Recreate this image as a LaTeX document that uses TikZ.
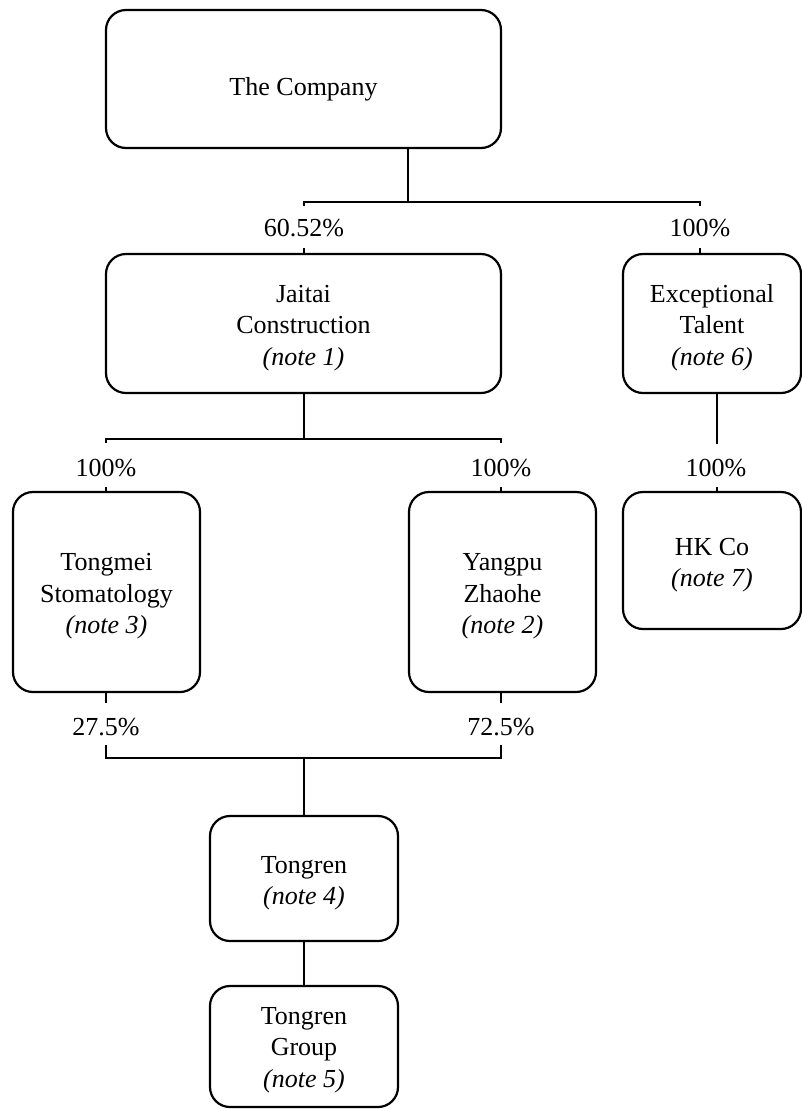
\documentclass[tikz,border=0pt]{standalone}
\usepackage{fontspec}
\setmainfont{Liberation Serif}
\newcommand{\bt}[2][4pt]{\raisebox{-#1}[\height][\depth]{\begin{tabular}{@{}c@{}}#2\end{tabular}}}
\begin{document}
\begin{tikzpicture}[x=1pt,y=-1pt,
  box/.style={draw,line width=2.2pt,rounded corners=20pt,inner sep=0pt,align=center,
    font=\fontsize{26}{31.5}\selectfont},
  pct/.style={inner sep=0pt,font=\fontsize{26}{31.5}\selectfont},
  conn/.style={line width=2.2pt}]
\useasboundingbox (0,0) rectangle (802,1109);
% boxes
\node[box,minimum width=395pt,minimum height=138pt] (comp) at (303.5,79) {\bt[10pt]{The Company}};
\node[box,minimum width=395pt,minimum height=139pt] (jait) at (303.5,323.5) {\bt{Jaitai\\Construction\\\textit{(note 1)}}};
\node[box,minimum width=178pt,minimum height=139pt] (exc) at (712,323.5) {\bt{Exceptional\\Talent\\\textit{(note 6)}}};
\node[box,minimum width=187pt,minimum height=200pt] (tong) at (106.5,592) {\bt{Tongmei\\Stomatology\\\textit{(note 3)}}};
\node[box,minimum width=187pt,minimum height=200pt] (yang) at (502.5,592) {\bt{Yangpu\\Zhaohe\\\textit{(note 2)}}};
\node[box,minimum width=178pt,minimum height=137pt] (hk) at (712,560.5) {\bt{HK Co\\\textit{(note 7)}}};
\node[box,minimum width=188pt,minimum height=125pt] (tr) at (304,878.5) {\bt{Tongren\\\textit{(note 4)}}};
\node[box,minimum width=188pt,minimum height=121pt] (trg) at (304,1046.5) {\bt[3pt]{Tongren\\Group\\\textit{(note 5)}}};
% percentage labels
\node[pct] (p1) at (304,228) {60.52\%};
\node[pct] (p2) at (700,228) {100\%};
\node[pct] (p3) at (106,468) {100\%};
\node[pct] (p4) at (501,468) {100\%};
\node[pct] (p5) at (716,468) {100\%};
\node[pct] (p6) at (106,727) {27.5\%};
\node[pct] (p7) at (501,727) {72.5\%};
% junction coordinates
\coordinate (c1) at (408,202);
\coordinate (c1l) at (304,202);
\coordinate (c1r) at (700,202);
\coordinate (c2) at (304,439);
\coordinate (c2l) at (106,439);
\coordinate (c2r) at (501,439);
\coordinate (c3) at (717,444);
\coordinate (c4) at (304,758);
\coordinate (c4l) at (106,758);
\coordinate (c4r) at (501,758);
% connectors
\draw[conn] (comp.south -| c1) -- (c1);
\draw[conn] ([yshift=-4pt]c1l) -- (c1l) -- (c1r) -- ([yshift=-4pt]c1r);
\draw[conn] (304,248) -- (jait.north -| c1l);
\draw[conn] (700,248) -- (exc.north -| c1r);
\draw[conn] (jait.south -| c2) -- (c2);
\draw[conn] ([yshift=-4pt]c2l) -- (c2l) -- (c2r) -- ([yshift=-4pt]c2r);
\draw[conn] (106,487) -- (tong.north -| c2l);
\draw[conn] (501,487) -- (yang.north -| c2r);
\draw[conn] (exc.south -| c3) -- (c3);
\draw[conn] (717,487) -- (hk.north -| c3);
\draw[conn] (tong.south -| c4l) -- (106,703);
\draw[conn] (yang.south -| c4r) -- (501,703);
\draw[conn] (106,745) -- (c4l) -- (c4r) -- (501,745);
\draw[conn] (c4) -- (tr.north);
\draw[conn] (tr.south) -- (trg.north);
\end{tikzpicture}
\end{document}
